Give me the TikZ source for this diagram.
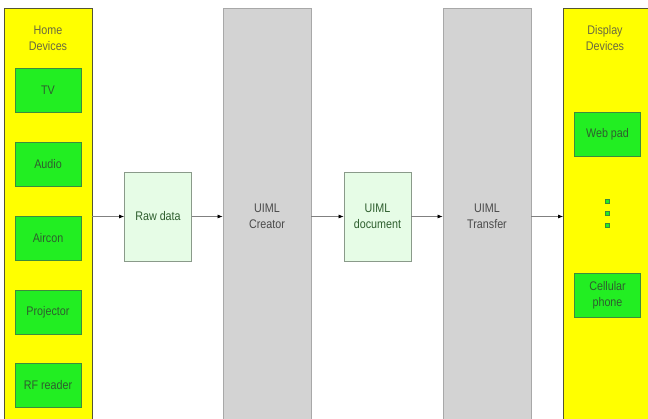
\documentclass[tikz,border=0pt]{standalone}
\usepackage{fontspec}
\setmainfont[FakeStretch=0.86]{Liberation Sans}
\usetikzlibrary{arrows.meta}
\definecolor{ylw}{HTML}{FFFF00}
\definecolor{grn}{HTML}{22EE22}
\definecolor{grnborder}{HTML}{3C8C3C}
\definecolor{grntext}{HTML}{2E5E2E}
\definecolor{ylwtext}{HTML}{6A6A40}
\definecolor{panelgray}{HTML}{D3D3D3}
\definecolor{panelborder}{HTML}{A8A8A8}
\definecolor{lightgrn}{HTML}{E6FCE6}
\definecolor{lgborder}{HTML}{8A9A8A}
\definecolor{graytext}{HTML}{4A4A4A}
\tikzset{
  txt/.style={font=\fontsize{12.5}{16}\selectfont},
  ypanel/.style={draw=ylwtext!80!black, fill=ylw, line width=0.8pt, minimum width=88pt, minimum height=417pt, inner sep=0pt},
  gpanel/.style={txt, draw=panelborder, fill=panelgray, line width=0.8pt, minimum width=88pt, minimum height=417pt, inner sep=0pt, text=graytext, align=center},
  devbox/.style={txt, draw=grnborder, fill=grn, line width=0.8pt, minimum width=66pt, minimum height=44pt, inner sep=0pt, text=grntext, align=center},
  databox/.style={txt, draw=lgborder, fill=lightgrn, line width=0.8pt, minimum width=67pt, minimum height=89pt, inner sep=0pt, text=grntext, align=center},
  ptitle/.style={txt, text=ylwtext, align=center, inner sep=0pt},
  flow/.style={draw=gray, line width=0.7pt, -{Latex[length=5pt,width=4pt,black]}},
  dotbox/.style={fill=grn, draw=grnborder, line width=0.5pt, minimum size=4pt, inner sep=0pt}
}
\begin{document}
\begin{tikzpicture}[x=1pt,y=-1pt]
\useasboundingbox (0,0) rectangle (648,419);
\clip (0,0) rectangle (648,419);
\fill[white] (0,0) rectangle (648,419);
% panels
\node[ypanel] (home) at (48,216.5) {};
\node[ypanel] (disp) at (607.5,216.5) {};
\node[gpanel] (creator) at (267,216.5) {UIML\\Creator};
\node[gpanel] (transfer) at (487,216.5) {UIML\\Transfer};
% titles
\node[ptitle] (hometitle) at (48,38) {Home\\Devices};
\node[ptitle] (disptitle) at (605,38) {Display\\Devices};
% home devices
\node[devbox] (tv) at (48,90) {TV};
\node[devbox] (audio) at (48,164) {Audio};
\node[devbox] (aircon) at (48,238) {Aircon};
\node[devbox] (proj) at (48,312) {Projector};
\node[devbox] (rf) at (48,385.5) {RF reader};
% display devices
\node[devbox] (webpad) at (607.5,134.5) {Web pad};
\node[dotbox] (d1) at (607.5,201) {};
\node[dotbox] (d2) at (607.5,213) {};
\node[dotbox] (d3) at (607.5,225) {};
\node[devbox] (cell) at (607.5,295) {Cellular\\phone};
% data boxes
\node[databox] (raw) at (158,216.5) {Raw data};
\node[databox] (doc) at (377.5,216.5) {UIML\\document};
% connectors
\draw[flow] (home.east) -- (raw.west);
\draw[flow] (raw.east) -- (creator.west);
\draw[flow] (creator.east) -- (doc.west);
\draw[flow] (doc.east) -- (transfer.west);
\draw[flow] (transfer.east) -- (disp.west);
\end{tikzpicture}
\end{document}
